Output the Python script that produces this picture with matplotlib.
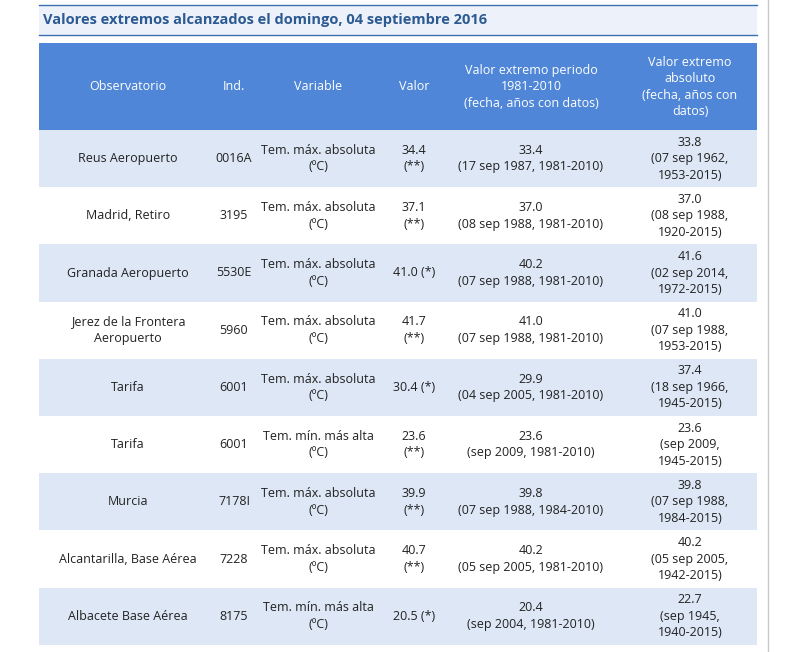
import matplotlib.pyplot as plt
from matplotlib.patches import Rectangle

title = "Valores extremos alcanzados el domingo, 04 septiembre 2016"
headers = ["Observatorio", "Ind.", "Variable", "Valor",
           "Valor extremo periodo\n1981-2010\n(fecha, años con datos)",
           "Valor extremo\nabsoluto\n(fecha, años con\ndatos)"]
stations = ["Reus Aeropuerto", "Madrid, Retiro", "Granada Aeropuerto",
            "Jerez de la Frontera\nAeropuerto", "Tarifa", "Tarifa", "Murcia",
            "Alcantarilla, Base Aérea", "Albacete Base Aérea"]
indicativos = ["0016A", "3195", "5530E", "5960", "6001", "6001", "7178I", "7228", "8175"]
variables = ["Tem. máx. absoluta\n(ºC)", "Tem. máx. absoluta\n(ºC)", "Tem. máx. absoluta\n(ºC)",
             "Tem. máx. absoluta\n(ºC)", "Tem. máx. absoluta\n(ºC)", "Tem. mín. más alta\n(ºC)",
             "Tem. máx. absoluta\n(ºC)", "Tem. máx. absoluta\n(ºC)", "Tem. mín. más alta\n(ºC)"]
valores = ["34.4\n(**)", "37.1\n(**)", "41.0 (*)", "41.7\n(**)", "30.4 (*)", "23.6\n(**)",
           "39.9\n(**)", "40.7\n(**)", "20.5 (*)"]
periodo = ["33.4\n(17 sep 1987, 1981-2010)", "37.0\n(08 sep 1988, 1981-2010)",
           "40.2\n(07 sep 1988, 1981-2010)", "41.0\n(07 sep 1988, 1981-2010)",
           "29.9\n(04 sep 2005, 1981-2010)", "23.6\n(sep 2009, 1981-2010)",
           "39.8\n(07 sep 1988, 1984-2010)", "40.2\n(05 sep 2005, 1981-2010)",
           "20.4\n(sep 2004, 1981-2010)"]
absoluto = ["33.8\n(07 sep 1962,\n1953-2015)", "37.0\n(08 sep 1988,\n1920-2015)",
            "41.6\n(02 sep 2014,\n1972-2015)", "41.0\n(07 sep 1988,\n1953-2015)",
            "37.4\n(18 sep 1966,\n1945-2015)", "23.6\n(sep 2009,\n1945-2015)",
            "39.8\n(07 sep 1988,\n1984-2015)", "40.2\n(05 sep 2005,\n1942-2015)",
            "22.7\n(sep 1945,\n1940-2015)"]

W, H = 798, 652
fig = plt.figure(figsize=(W / 100, H / 100), dpi=100)
ax = fig.add_axes([0, 0, 1, 1])
ax.set_xlim(0, W)
ax.set_ylim(H, 0)
ax.axis("off")
font = "Open Sans"

x0, x1 = 39, 757
# title band
ax.add_patch(Rectangle((x0, 5), x1 - x0, 30, color="#edf2fa", lw=0))
ax.plot([x0, x1], [5, 5], color="#3d6fb0", lw=1)
ax.plot([x0, x1], [35, 35], color="#3d6fb0", lw=1)
ax.text(x0 + 4, 20, title, fontsize=10.5, fontweight="bold", color="#2c5a92",
        va="center", ha="left", family=font)
ax.plot([768, 768], [0, H], color="#c8c8c8", lw=1)

# header
ax.add_patch(Rectangle((x0, 43), x1 - x0, 87, color="#4f86d8", lw=0))
col_x = [128, 234, 318, 414, 531, 690]
for cx, h in zip(col_x, headers):
    ax.text(cx, 87, h, ha="center", va="center", color="white", fontsize=9,
            family=font, linespacing=1.35)

row_top, row_h = 130, 57.2
rows = list(zip(stations, indicativos, variables, valores, periodo, absoluto))
for i, row in enumerate(rows):
    y = row_top + i * row_h
    if i % 2 == 0:
        ax.add_patch(Rectangle((x0, y), x1 - x0, row_h, color="#dde7f5", lw=0))
    for cx, val in zip(col_x, row):
        ax.text(cx, y + row_h / 2, val, ha="center", va="center", color="#222222",
                fontsize=9, family=font, linespacing=1.35)

fig.savefig("out.png", dpi=100)
